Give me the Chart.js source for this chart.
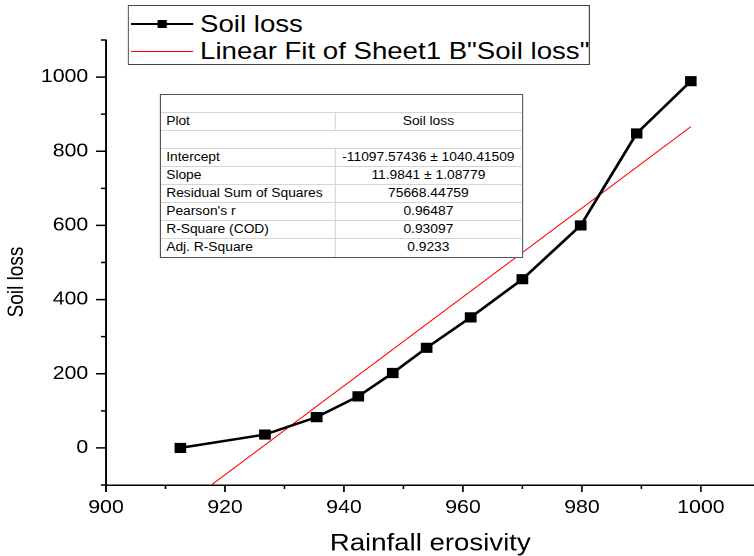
<!DOCTYPE html>
<html>
<head>
<meta charset="utf-8">
<script src="https://cdn.jsdelivr.net/npm/chart.js@4.4.1/dist/chart.umd.min.js"></script>
<style>
  html, body { margin: 0; padding: 0; background: #fff; overflow: hidden; }
  /* the reference is horizontally stretched, so draw narrow and stretch */
  #stage { position: relative; width: 656px; height: 556px; transform: scaleX(1.15); transform-origin: 0 0;
           font-family: Arial, "Liberation Sans", Helvetica, sans-serif; color: #000; }
  #stage canvas { position: absolute; left: 0; top: 0; }
  #legend { position: absolute; left: 111px; top: 5px; width: 402px; height: 60px; box-sizing: border-box;
            border: 1px solid #444; background: #fff; }
  .lrow { position: absolute; left: 0; height: 27px; width: 100%; }
  .lrow .txt { position: absolute; left: 62px; top: 0; line-height: 27px; font-size: 24px; white-space: nowrap; }
  .lrow .ln { position: absolute; left: 2px; width: 54px; top: 13px; }
  .lrow .sq { position: absolute; left: 25px; top: 9.5px; width: 7.5px; height: 8px; background: #000; }
  #stats { position: absolute; left: 138.5px; top: 94px; width: 316px; box-sizing: border-box;
           border: 1px solid #555; background: #fff; font-size: 12px; }
  .srow { display: flex; height: 18px; box-sizing: border-box; border-bottom: 1px solid #d6d6d6; line-height: 17px; }
  .srow:last-child { border-bottom: none; }
  .srow .c1 { width: 152px; box-sizing: border-box; padding-left: 5px; border-right: 1px solid #d6d6d6; white-space: nowrap; }
  .srow .c2 { flex: 1; text-align: center; white-space: nowrap; }
</style>
</head>
<body>
<div id="stage">
  <canvas id="fitChart" width="656" height="556" style="width:656px;height:556px"></canvas>
  <div id="legend">
    <div class="lrow" style="top:4px">
      <div class="ln" style="border-top:2px solid #000"></div>
      <div class="sq"></div>
      <div class="txt">Soil loss</div>
    </div>
    <div class="lrow" style="top:31px">
      <div class="ln" style="border-top:1px solid #ff0000;top:14px"></div>
      <div class="txt">Linear Fit of Sheet1 B"Soil loss"</div>
    </div>
  </div>
  <div id="stats"></div>
</div>
<script>
// measured points
const rainfall = [912.5, 926.7, 935.4, 942.4, 948.2, 953.9, 961.3, 970.0, 979.8, 989.2, 998.3];
const soilLoss = [0, 36, 83, 139, 202, 270, 352, 455, 600, 848, 989];

// ends of the fitted line
const fitX = [917.7, 998.3];
const fitY = [-100, 866];

// fit report table
const statLabels = ['Intercept', 'Slope', 'Residual Sum of Squares', "Pearson's r", 'R-Square (COD)', 'Adj. R-Square'];
const statValues = ['-11097.57436 ± 1040.41509', '11.9841 ± 1.08779', '75668.44759', '0.96487', '0.93097', '0.9233'];

// build the table
const stats = document.getElementById('stats');
let html = '<div class="srow"></div>';
html += '<div class="srow"><div class="c1">Plot</div><div class="c2">Soil loss</div></div>';
html += '<div class="srow"></div>';
statLabels.forEach((lab, i) => {
  html += '<div class="srow"><div class="c1">' + lab + '</div><div class="c2">' + statValues[i] + '</div></div>';
});
stats.innerHTML = html;

const FONT = 'Arial, "Liberation Sans", Helvetica, sans-serif';
Chart.defaults.font.family = FONT;
Chart.defaults.color = '#000';

// outward tick marks, long on labelled ticks and short between
const tickMarks = {
  id: 'tickMarks',
  afterDraw(chart) {
    const { ctx, scales: { x, y } } = chart;
    ctx.save();
    ctx.strokeStyle = '#000';
    ctx.lineWidth = 1.5;
    ctx.beginPath();
    x.ticks.forEach(t => {
      if (t.value > 1000) return;
      const px = x.getPixelForValue(t.value);
      const len = t.value % 20 === 0 ? 7 : 4;
      ctx.moveTo(px, x.top);
      ctx.lineTo(px, x.top + len);
    });
    y.ticks.forEach(t => {
      const py = y.getPixelForValue(t.value);
      const len = t.value % 200 === 0 ? 8.7 : 4.3;
      ctx.moveTo(y.right - len, py);
      ctx.lineTo(y.right, py);
    });
    ctx.stroke();

    // y axis title, sits a little below the middle of the axis
    ctx.translate(15, 282);
    ctx.rotate(-Math.PI / 2);
    ctx.font = '19px ' + FONT;
    ctx.fillStyle = '#000';
    ctx.textAlign = 'center';
    ctx.textBaseline = 'middle';
    ctx.fillText('Soil loss', 0, 0);
    ctx.restore();
  }
};

new Chart(document.getElementById('fitChart'), {
  type: 'line',
  data: {
    datasets: [
      {
        label: 'Soil loss',
        data: rainfall.map((x, i) => ({ x: x, y: soilLoss[i] })),
        borderColor: '#000',
        borderWidth: 2.5,
        pointStyle: 'rect',
        pointRadius: 6.5,
        pointBackgroundColor: '#000',
        pointBorderColor: '#000',
        pointBorderWidth: 1,
        tension: 0,
        order: 1
      },
      {
        label: 'Linear Fit of Sheet1 B"Soil loss"',
        data: fitX.map((x, i) => ({ x: x, y: fitY[i] })),
        borderColor: '#ff0000',
        borderWidth: 1,
        pointRadius: 0,
        tension: 0,
        order: 2
      }
    ]
  },
  options: {
    responsive: false,
    animation: false,
    devicePixelRatio: 2,
    layout: { autoPadding: false, padding: { top: 40, left: 0, right: 0, bottom: 0 } },
    plugins: { legend: { display: false }, tooltip: { enabled: false } },
    scales: {
      x: {
        type: 'linear',
        min: 900,
        max: 1009,
        border: { display: true, color: '#000', width: 1.5 },
        grid: { display: false, drawTicks: false },
        ticks: {
          stepSize: 10,
          includeBounds: false,
          autoSkip: false,
          maxRotation: 0,
          padding: 12,
          font: { size: 18.5 },
          callback: v => (v % 20 === 0 && v <= 1000 ? String(v) : '')
        },
        title: { display: true, text: 'Rainfall erosivity', font: { size: 24, lineHeight: 1 }, padding: 0 },
        afterFit: s => { s.height = 71; s.paddingLeft = 0; s.paddingRight = 0; }
      },
      y: {
        type: 'linear',
        min: -100,
        max: 1100,
        border: { display: true, color: '#000', width: 1.5 },
        grid: { display: false, drawTicks: false },
        ticks: {
          stepSize: 100,
          includeBounds: false,
          autoSkip: false,
          padding: 15.5,
          font: { size: 18.5 },
          callback: v => (v % 200 === 0 ? String(v) : '')
        },
        afterFit: s => { s.width = 92.2; s.paddingTop = 0; s.paddingBottom = 0; }
      }
    }
  },
  plugins: [tickMarks]
});
</script>
</body>
</html>
